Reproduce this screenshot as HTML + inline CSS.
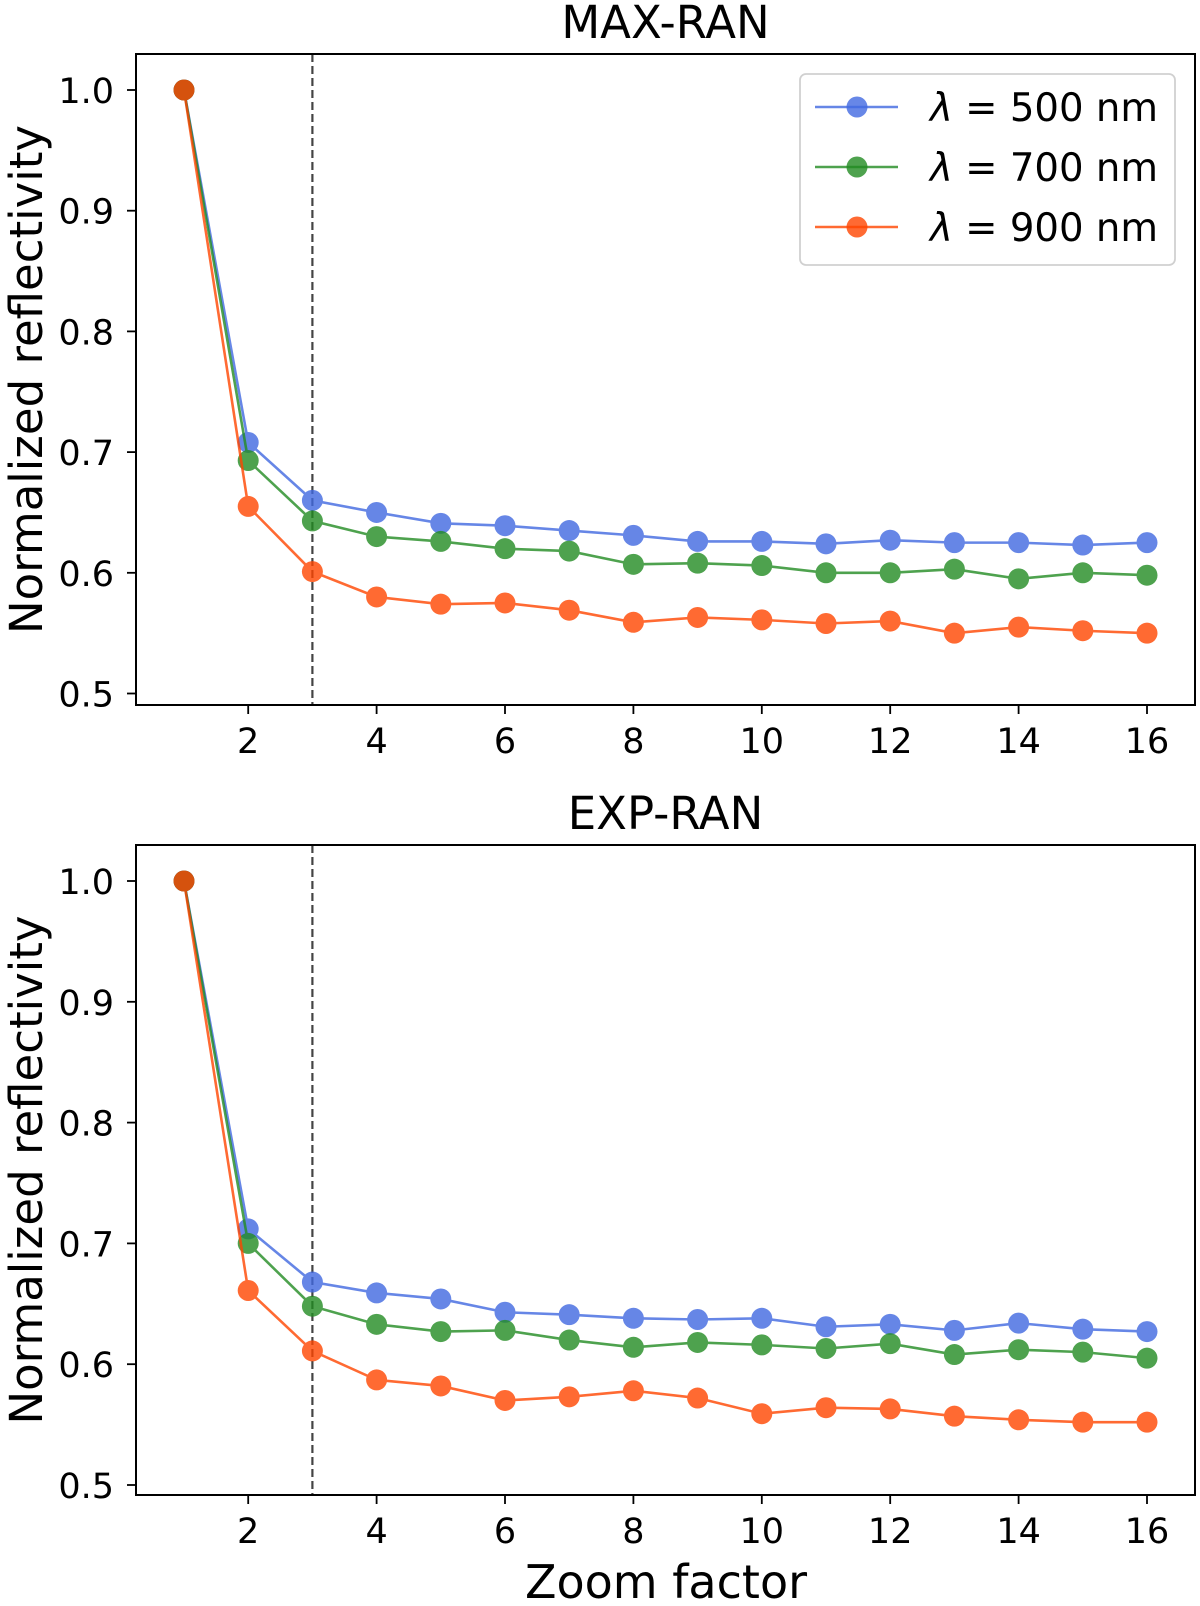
<!DOCTYPE html>
<html><head><meta charset="utf-8"><style>
body{margin:0;background:#fff}
svg text{font-family:"DejaVu Sans","Liberation Sans",sans-serif;fill:#000}
</style></head><body>
<svg id="chart" width="1200" height="1601" xmlns="http://www.w3.org/2000/svg"></svg>
<script>
const zoomFactors=[1,2,3,4,5,6,7,8,9,10,11,12,13,14,15,16];
const xTicks=[2,4,6,8,10,12,14,16];
const yTicks=[0.5,0.6,0.7,0.8,0.9,1.0];
const seriesNames=["λ = 500 nm","λ = 700 nm","λ = 900 nm"];
const maxBlue=[1,.708,.660,.650,.641,.639,.635,.631,.626,.626,.624,.627,.625,.625,.623,.625];
const maxGreen=[1,.693,.643,.630,.626,.620,.618,.607,.608,.606,.600,.600,.603,.595,.600,.598];
const maxOrange=[1,.655,.601,.580,.574,.575,.569,.559,.563,.561,.558,.560,.550,.555,.552,.550];
const expBlue=[1,.712,.668,.659,.654,.643,.641,.638,.637,.638,.631,.633,.628,.634,.629,.627];
const expGreen=[1,.700,.648,.633,.627,.628,.620,.614,.618,.616,.613,.617,.608,.612,.610,.605];
const expOrange=[1,.661,.611,.587,.582,.570,.573,.578,.572,.559,.564,.563,.557,.554,.552,.552];
const dashedX=3;
const colors=["#4169e1","#228b22","#ff4500"];
const svg=document.getElementById('chart');
const NS="http://www.w3.org/2000/svg";
function mk(tag,attrs,parent){const e=document.createElementNS(NS,tag);for(const k in attrs)e.setAttribute(k,attrs[k]);(parent||svg).appendChild(e);return e;}
function panel(key,title,top,bottom,y10,y05,data,withLegend){
  const left=136,right=1195;
  const xs=v=>184+(v-1)*(1147-184)/15;
  const ys=v=>y05+(v-0.5)*(y10-y05)/0.5;
  const g=mk('g',{});
  
  
  const t=mk('text',{x:(left+right)/2,y:top-16,'font-size':45,'text-anchor':'middle'},g);t.textContent=title;
  
  
  const yl=mk('text',{x:0,y:0,'font-size':45,'text-anchor':'middle',transform:`translate(42,${(top+bottom)/2}) rotate(-90)`},g);yl.textContent="Normalized reflectivity";
  
  
  xTicks.forEach(v=>{mk('line',{x1:xs(v),x2:xs(v),y1:bottom,y2:bottom+9,stroke:'#000','stroke-width':1.8},g);
    const tx=mk('text',{x:xs(v),y:bottom+48,'font-size':35,'text-anchor':'middle'},g);tx.textContent=v;
    
    });
  yTicks.forEach(v=>{mk('line',{x1:left-9,x2:left,y1:ys(v),y2:ys(v),stroke:'#000','stroke-width':1.8},g);
    const ty=mk('text',{x:left-22,y:ys(v)+13,'font-size':35,'text-anchor':'end'},g);ty.textContent=v.toFixed(1);
    
    });
  const dl=mk('line',{x1:xs(dashedX),x2:xs(dashedX),y1:top,y2:bottom,stroke:'#444','stroke-width':2.2,'stroke-dasharray':'8,4'},g);
  
  
  data.forEach((arr,i)=>{
    const sg=mk('g',{opacity:0.8},g);
    
    
    mk('polyline',{points:arr.map((v,j)=>xs(zoomFactors[j])+','+ys(v)).join(' '),fill:'none',stroke:colors[i],'stroke-width':2.6},sg);
    arr.forEach((v,j)=>{const c=mk('circle',{cx:xs(zoomFactors[j]),cy:ys(v),r:10.5,fill:colors[i]},sg);
      
      });
  });
  mk('rect',{x:left,y:top,width:right-left,height:bottom-top,fill:'none',stroke:'#000','stroke-width':2},g);
  if(withLegend){
    const lg=mk('g',{},g);
    
    
    mk('rect',{x:800,y:74,width:375,height:191,rx:6,fill:'#fff',stroke:'#ccc','stroke-width':1.8,opacity:0.9},lg);
    seriesNames.forEach((n,i)=>{const y=107+i*60;
      const eg=mk('g',{},lg);
      
      
      mk('line',{x1:815,x2:898,y1:y,y2:y,stroke:colors[i],'stroke-width':2.6,opacity:0.8},eg);
      mk('circle',{cx:857,cy:y,r:10.5,fill:colors[i],opacity:0.8},eg);
      const lt=mk('text',{x:930,y:y+14,'font-size':39,textLength:228,lengthAdjust:'spacingAndGlyphs'},eg);
      lt.innerHTML='<tspan font-style="italic">λ</tspan> = '+n.split('= ')[1];});
  }
}
panel('max-ran','MAX-RAN',54,705,90,693.5,[maxBlue,maxGreen,maxOrange],true);
panel('exp-ran','EXP-RAN',845,1495,881,1485,[expBlue,expGreen,expOrange],false);
const xl=mk('text',{x:666,y:1598,'font-size':46,'text-anchor':'middle'});xl.textContent="Zoom factor";


</script>
</body></html>
